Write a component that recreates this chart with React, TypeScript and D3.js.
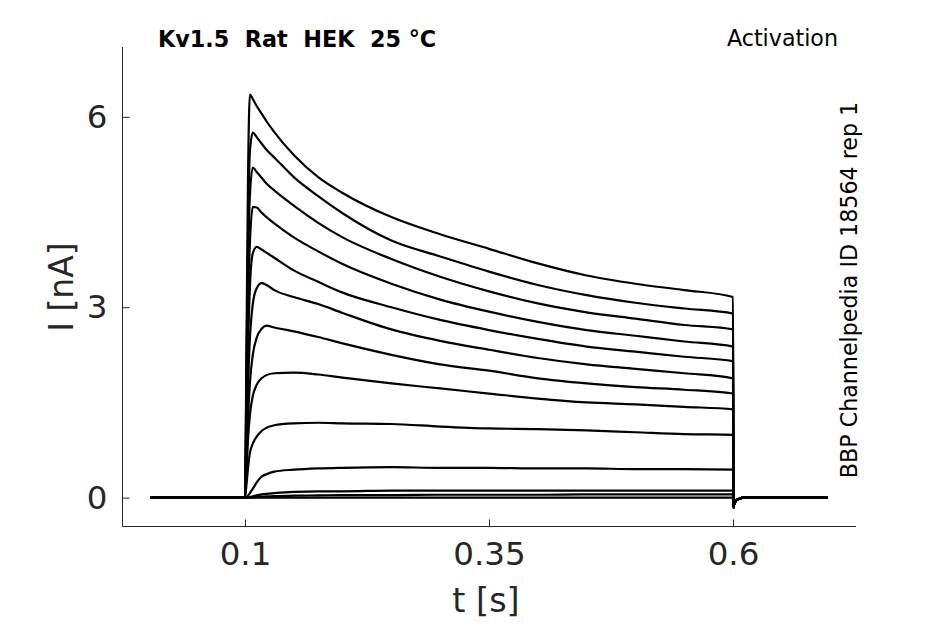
import React, { useEffect, useRef } from "react";
import * as d3 from "d3";

// sample times (s) during the depolarising step
const stepTimes = [0.1, 0.1015, 0.103, 0.105, 0.108, 0.112, 0.117, 0.122, 0.13, 0.15, 0.175, 0.2, 0.25, 0.3, 0.35, 0.4, 0.45, 0.5, 0.55, 0.6];

// current (nA) of each sweep at stepTimes, top sweep first
const sweep1 = [0, 2.4, 4.9, 6.35, 6.28, 6.17, 6.05, 5.93, 5.76, 5.4, 5.05, 4.8, 4.42, 4.15, 3.92, 3.69, 3.5, 3.37, 3.27, 3.16];
const sweep2 = [0, 2.0, 4.0, 5.45, 5.75, 5.68, 5.58, 5.48, 5.36, 5.05, 4.75, 4.48, 4.05, 3.8, 3.56, 3.35, 3.19, 3.07, 2.98, 2.9];
const sweep3 = [0, 1.7, 3.5, 4.75, 5.2, 5.13, 5.04, 4.95, 4.84, 4.6, 4.33, 4.1, 3.76, 3.48, 3.25, 3.06, 2.92, 2.82, 2.72, 2.65];
const sweep4 = [0, 1.4, 2.9, 4.0, 4.58, 4.57, 4.49, 4.42, 4.32, 4.1, 3.88, 3.68, 3.37, 3.12, 2.93, 2.77, 2.64, 2.55, 2.46, 2.38];
const sweep5 = [0, 1.1, 2.3, 3.3, 3.85, 3.95, 3.91, 3.86, 3.78, 3.58, 3.4, 3.23, 3.0, 2.8, 2.64, 2.5, 2.38, 2.3, 2.22, 2.15];
const sweep6 = [0, 0.8, 1.7, 2.5, 3.05, 3.3, 3.38, 3.35, 3.27, 3.16, 3.05, 2.91, 2.65, 2.47, 2.33, 2.2, 2.1, 2.03, 1.96, 1.88];
const sweep7 = [0, 0.55, 1.2, 1.8, 2.25, 2.52, 2.66, 2.71, 2.68, 2.62, 2.53, 2.43, 2.25, 2.1, 2.0, 1.88, 1.8, 1.74, 1.7, 1.64];
const sweep8 = [0, 0.4, 0.9, 1.3, 1.6, 1.78, 1.88, 1.93, 1.96, 1.97, 1.94, 1.89, 1.8, 1.72, 1.64, 1.56, 1.5, 1.47, 1.43, 1.39];
const sweep9 = [0, 0.2, 0.45, 0.7, 0.85, 0.96, 1.05, 1.1, 1.14, 1.17, 1.18, 1.17, 1.16, 1.12, 1.09, 1.08, 1.06, 1.03, 1.0, 0.99];
const sweep10 = [0, 0.01, 0.03, 0.07, 0.14, 0.24, 0.33, 0.37, 0.41, 0.44, 0.46, 0.47, 0.48, 0.47, 0.47, 0.46, 0.46, 0.45, 0.45, 0.44];
const sweep11 = [0, 0, 0.005, 0.01, 0.02, 0.035, 0.05, 0.06, 0.07, 0.09, 0.1, 0.1, 0.11, 0.11, 0.11, 0.11, 0.11, 0.11, 0.11, 0.11];
const sweep12 = [0, 0, 0, 0, 0.005, 0.01, 0.015, 0.02, 0.025, 0.03, 0.035, 0.04, 0.04, 0.045, 0.045, 0.045, 0.05, 0.05, 0.05, 0.05];
const sweep13 = [0, 0, 0, 0, 0, 0, 0, 0, 0, 0, 0, 0, 0, 0, 0, 0, 0, 0, 0, 0];
const sweeps = [sweep1, sweep2, sweep3, sweep4, sweep5, sweep6, sweep7, sweep8, sweep9, sweep10, sweep11, sweep12, sweep13];

// holding period before the step, and tail after it
const startTime = 0.0027;
const tailTimes = [0.6004, 0.6012, 0.603, 0.606, 0.612, 0.697];
const tailValues = [-0.16, -0.1, -0.05, -0.02, 0, 0];

const xTicks = [0.1, 0.35, 0.6];
const yTicks = [0, 3, 6];

const title = "Kv1.5\u00a0\u00a0Rat\u00a0\u00a0HEK\u00a0\u00a025 °C";
const protocol = "Activation";
const source = "BBP Channelpedia ID 18564 rep 1";

const W = 945;
const H = 624;
const axisColor = "#262626";
const font = "DejaVu Sans, sans-serif";

const App: React.FC = () => {
  const ref = useRef<SVGSVGElement>(null);

  useEffect(() => {
    const svg = d3.select(ref.current);
    svg.selectAll("*").remove();

    const left = 122.5;
    const right = 856;
    const top = 47;
    const bottom = 526.5;

    const x = d3.scaleLinear().domain([-0.0255, 0.726]).range([left, right]);
    const y = d3.scaleLinear().domain([-0.455, 7.1]).range([bottom, top]);

    const line = d3
      .line<[number, number]>()
      .x((d) => x(d[0]))
      .y((d) => y(d[1]))
      .curve(d3.curveMonotoneX);

    const traces = sweeps.map((vals) => {
      const pts: [number, number][] = [[startTime, 0]];
      stepTimes.forEach((t, i) => pts.push([t, vals[i]]));
      tailTimes.forEach((t, i) => pts.push([t, tailValues[i]]));
      return pts;
    });

    svg
      .append("g")
      .selectAll("path")
      .data(traces.slice().reverse())
      .enter()
      .append("path")
      .attr("d", (d) => line(d))
      .attr("fill", "none")
      .attr("stroke", "#000")
      .attr("stroke-width", 2.2)
      .attr("stroke-linejoin", "round");

    // axes
    const xAxis = d3
      .axisBottom(x)
      .tickValues(xTicks)
      .tickSize(-7)
      .tickSizeOuter(0)
      .tickPadding(15)
      .tickFormat((d) => String(d));
    const gx = svg.append("g").attr("transform", `translate(0,${bottom})`).call(xAxis);
    gx.select(".domain").attr("stroke", axisColor).attr("d", `M${left},0H${right}`);

    const yAxis = d3
      .axisLeft(y)
      .tickValues(yTicks)
      .tickSize(-7)
      .tickSizeOuter(0)
      .tickPadding(15)
      .tickFormat((d) => String(d));
    const gy = svg.append("g").attr("transform", `translate(${left},0)`).call(yAxis);
    gy.select(".domain").attr("stroke", axisColor).attr("d", `M0,${top}V${bottom}`);

    [gx, gy].forEach((g) => {
      g.selectAll(".tick line").attr("stroke", axisColor);
      g.selectAll(".tick text")
        .attr("fill", axisColor)
        .attr("font-size", 32.5)
        .attr("font-family", font);
    });
    gx.selectAll(".tick text").attr("dy", "0.71em");

    // labels
    svg
      .append("text")
      .attr("x", 486)
      .attr("y", 612)
      .attr("text-anchor", "middle")
      .attr("font-size", 33.5)
      .attr("font-family", font)
      .attr("fill", axisColor)
      .text("t [s]");

    svg
      .append("text")
      .attr("transform", "translate(73,287) rotate(-90)")
      .attr("text-anchor", "middle")
      .attr("font-size", 33)
      .attr("font-family", font)
      .attr("fill", axisColor)
      .text("I [nA]");

    svg
      .append("text")
      .attr("x", 158)
      .attr("y", 47)
      .attr("font-size", 22.3)
      .attr("font-weight", "bold")
      .attr("font-family", font)
      .attr("fill", "#000")
      .text(title);

    svg
      .append("text")
      .attr("x", 838)
      .attr("y", 46)
      .attr("text-anchor", "end")
      .attr("font-size", 22.2)
      .attr("font-family", font)
      .attr("fill", "#000")
      .text(protocol);

    svg
      .append("text")
      .attr("transform", "translate(857,290) rotate(-90)")
      .attr("text-anchor", "middle")
      .attr("font-size", 22.2)
      .attr("font-family", font)
      .attr("fill", "#000")
      .text(source);
  }, []);

  return (
    <svg
      ref={ref}
      width={W}
      height={H}
      style={{ position: "absolute", left: 0, top: 0, background: "#fff" }}
    />
  );
};

export default App;
